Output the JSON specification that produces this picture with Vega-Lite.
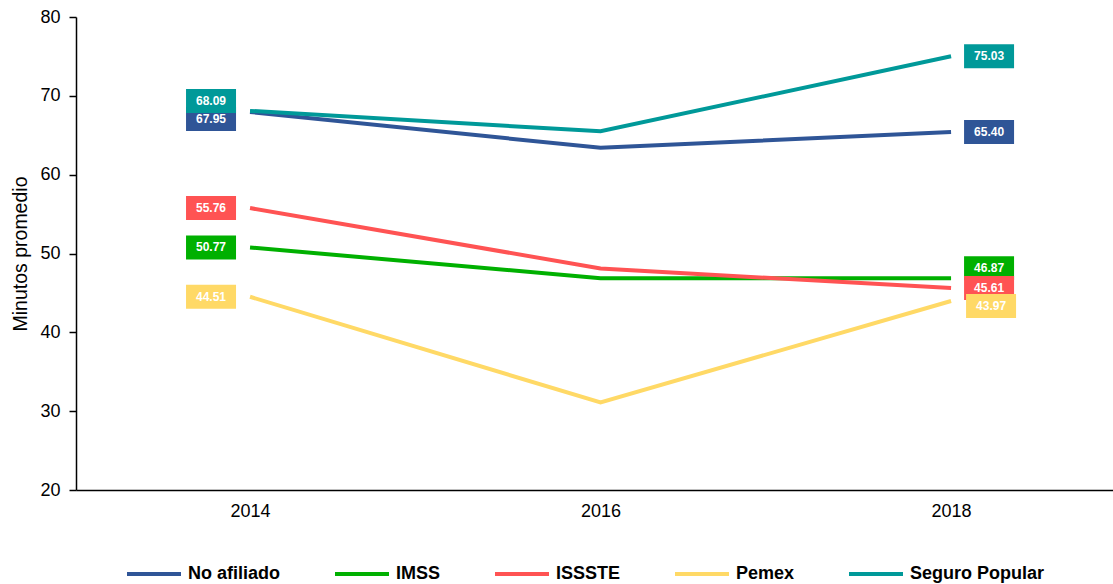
{
  "$schema": "https://vega.github.io/schema/vega-lite/v6.json",
  "autosize": {"type": "none"},
  "padding": {"left": 76, "top": 17, "right": 0, "bottom": 94},
  "width": 1037,
  "height": 473,
  "background": "white",
  "config": {
    "view": {"stroke": null},
    "font": "Liberation Sans",
    "axis": {"labelFont": "Liberation Sans", "titleFont": "Liberation Sans", "labelColor": "#000", "titleColor": "#000", "domainColor": "#000", "tickColor": "#000"}
  },
  "data": {
    "values": [
      {"series": "No afiliado", "year": 2014, "value": 67.95},
      {"series": "No afiliado", "year": 2016, "value": 63.4},
      {"series": "No afiliado", "year": 2018, "value": 65.40},
      {"series": "IMSS", "year": 2014, "value": 50.77},
      {"series": "IMSS", "year": 2016, "value": 46.87},
      {"series": "IMSS", "year": 2018, "value": 46.87},
      {"series": "ISSSTE", "year": 2014, "value": 55.76},
      {"series": "ISSSTE", "year": 2016, "value": 48.1},
      {"series": "ISSSTE", "year": 2018, "value": 45.61},
      {"series": "Pemex", "year": 2014, "value": 44.51},
      {"series": "Pemex", "year": 2016, "value": 31.1},
      {"series": "Pemex", "year": 2018, "value": 43.97},
      {"series": "Seguro Popular", "year": 2014, "value": 68.09},
      {"series": "Seguro Popular", "year": 2016, "value": 65.5},
      {"series": "Seguro Popular", "year": 2018, "value": 75.03}
    ]
  },
  "encoding": {
    "x": {
      "field": "year", "type": "quantitative",
      "scale": {"domain": [2013.007, 2018.924], "nice": false, "zero": false},
      "axis": {"values": [2014, 2016, 2018], "format": "d", "title": null, "ticks": false, "grid": false, "labelFontSize": 18, "labelPadding": 12, "domainWidth": 1.5, "domainColor": "#000", "labelFlush": false}
    },
    "y": {
      "field": "value", "type": "quantitative",
      "scale": {"domain": [20, 80], "nice": false, "zero": false},
      "axis": {"values": [20, 30, 40, 50, 60, 70, 80], "title": "Minutos promedio", "titleFontSize": 19.5, "titleFontWeight": "normal", "titlePadding": 9, "grid": false, "labelFontSize": 18, "labelPadding": 9, "tickSize": 7, "tickWidth": 1.5, "domainWidth": 1.5}
    }
  },
  "layer": [
    {
      "mark": {"type": "line", "strokeWidth": 4},
      "encoding": {
        "color": {
          "field": "series", "type": "nominal",
          "scale": {"domain": ["No afiliado", "IMSS", "ISSSTE", "Pemex", "Seguro Popular"], "range": ["#2F5597", "#00B000", "#FF5353", "#FFD966", "#009999"]},
          "legend": {"title": null, "orient": "none", "direction": "horizontal", "legendX": 49, "legendY": 528, "symbolType": "stroke", "symbolSize": 2916, "symbolStrokeWidth": 4, "labelFontSize": 18, "labelFontWeight": "bold", "labelColor": "#000", "labelFont": "Liberation Sans", "labelOffset": 5, "columnPadding": 46, "padding": 0, "labelLimit": 300}
        }
      }
    },
    {
      "transform": [{"filter": "datum.year != 2016"}],
      "mark": {
        "type": "point", "filled": true, "opacity": 1, "size": 2500,
        "shape": "M-1,-0.48H1V0.48H-1Z", "strokeWidth": 0,
        "xOffset": {"expr": "datum.year == 2014 ? -39 : (datum.series == 'Pemex' ? 40 : 38)"},
        "yOffset": {"expr": "datum.year == 2014 ? (datum.series == 'Seguro Popular' ? -10 : (datum.series == 'No afiliado' ? 7 : 0)) : (datum.series == 'IMSS' ? -10 : (datum.series == 'Pemex' ? 5 : 0))"}
      },
      "encoding": {
        "color": {"field": "series", "type": "nominal", "legend": null}
      }
    },
    {
      "transform": [{"filter": "datum.year != 2016"}],
      "mark": {
        "type": "text", "color": "white", "fontWeight": "bold", "fontSize": 12, "font": "Liberation Sans",
        "align": "center", "baseline": "middle",
        "xOffset": {"expr": "datum.year == 2014 ? -39 : (datum.series == 'Pemex' ? 40 : 38)"},
        "yOffset": {"expr": "datum.year == 2014 ? (datum.series == 'Seguro Popular' ? -10 : (datum.series == 'No afiliado' ? 7 : 0)) : (datum.series == 'IMSS' ? -10 : (datum.series == 'Pemex' ? 5 : 0))"}
      },
      "encoding": {
        "text": {"field": "value", "type": "quantitative", "format": ".2f"}
      }
    }
  ]
}
